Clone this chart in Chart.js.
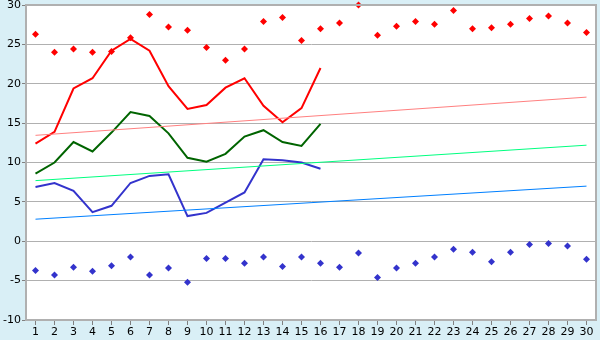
<!DOCTYPE html>
<html>
<head>
<meta charset="utf-8">
<script src="https://cdn.jsdelivr.net/npm/chart.js@4"></script>
<style>
  html, body { margin: 0; padding: 0; background: #d9eff6; }
  #wrap { width: 600px; height: 340px; }
</style>
</head>
<body>
<div id="wrap"><canvas id="tempChart" width="600" height="340"></canvas></div>
<script>
// days of the month
var days = [];
for (var d = 1; d <= 30; d++) days.push(String(d));

// daily max / mean / min (first 16 days)
var maxTemp  = [12.4, 13.9, 19.4, 20.7, 24.2, 25.7, 24.2, 19.7, 16.8, 17.3, 19.5, 20.7, 17.2, 15.1, 16.9, 22.0];
var meanTemp = [8.6, 10.0, 12.6, 11.4, 13.8, 16.4, 15.9, 13.7, 10.6, 10.1, 11.1, 13.3, 14.1, 12.6, 12.1, 14.9];
var minTemp  = [6.9, 7.4, 6.4, 3.7, 4.5, 7.4, 8.3, 8.5, 3.2, 3.6, 4.9, 6.2, 10.4, 10.3, 10.0, 9.2];

// record highs / lows for each day
var recordHigh = [26.3, 24.0, 24.4, 24.0, 24.1, 25.85, 28.8, 27.2, 26.8, 24.6, 23.0, 24.4, 27.9, 28.4, 25.5,
                  27.0, 27.7, 30.0, 26.15, 27.3, 27.9, 27.55, 29.3, 27.0, 27.1, 27.55, 28.3, 28.6, 27.7, 26.5];
var recordLow  = [-3.7, -4.3, -3.3, -3.8, -3.1, -2.0, -4.3, -3.4, -5.2, -2.2, -2.2, -2.8, -2.0, -3.2, -2.0,
                  -2.8, -3.3, -1.5, -4.6, -3.4, -2.8, -2.0, -1.0, -1.4, -2.6, -1.4, -0.4, -0.3, -0.6, -2.3];

// long term normals: value on day 1 and day 30
var normalMax  = [13.45, 18.3];
var normalMean = [7.7, 12.2];
var normalMin  = [2.8, 7.0];

var yTicks = [-10, -5, 0, 5, 10, 15, 20, 25, 30];

function endpoints(pair) {
    var arr = days.map(function() { return null; });
    arr[0] = pair[0];
    arr[arr.length - 1] = pair[1];
    return arr;
}

var plotBg = {
    id: 'plotBg',
    beforeDraw: function(chart) {
        var c = chart.ctx, a = chart.chartArea;
        c.save();
        c.fillStyle = '#d9eff6';
        c.fillRect(0, 0, chart.width, chart.height);
        c.fillStyle = '#ffffff';
        c.fillRect(a.left, a.top, a.right - a.left, a.bottom - a.top);
        c.restore();
    },
    afterDatasetsDraw: function(chart) {
        var c = chart.ctx, a = chart.chartArea;
        c.save();
        c.strokeStyle = '#b0b0b0';
        c.lineWidth = 2;
        c.beginPath();
        c.moveTo(a.left, a.top);
        c.lineTo(a.right, a.top);
        c.lineTo(a.right, a.bottom);
        c.stroke();
        c.restore();
    }
};

function lineSet(label, data, color, width) {
    return {
        label: label, data: data, borderColor: color, backgroundColor: color,
        borderWidth: width, pointRadius: 0, tension: 0, fill: false, spanGaps: true
    };
}

function pointSet(label, data, color) {
    return {
        label: label, data: data, showLine: false, borderColor: color, backgroundColor: color,
        pointStyle: 'rectRot', pointRadius: 3.5, pointBorderWidth: 0, clip: false
    };
}

var ctx = document.getElementById('tempChart').getContext('2d');
var myChart = new Chart(ctx, {
    type: 'line',
    data: {
        labels: days,
        datasets: [
            lineSet('Normal max', endpoints(normalMax), '#ff8080', 1),
            lineSet('Normal mean', endpoints(normalMean), '#00ff80', 1),
            lineSet('Normal min', endpoints(normalMin), '#0080ff', 1),
            lineSet('Max', maxTemp, '#ff0000', 2),
            lineSet('Mean', meanTemp, '#006400', 2),
            lineSet('Min', minTemp, '#3333cc', 2),
            pointSet('Record high', recordHigh, '#ff0000'),
            pointSet('Record low', recordLow, '#3333cc')
        ]
    },
    options: {
        responsive: false,
        animation: false,
        layout: { padding: { top: 5, right: 4, left: 0, bottom: 0 } },
        plugins: { legend: { display: false }, tooltip: { enabled: false } },
        scales: {
            x: {
                offset: true,
                grid: { display: true, drawOnChartArea: false, color: '#808080', tickLength: 5, offset: false },
                border: { color: '#b0b0b0', width: 2 },
                ticks: { color: '#000', font: { family: 'DejaVu Sans', size: 11 }, padding: 1, maxRotation: 0, autoSkip: false },
                afterFit: function(scale) { scale.height = 20; scale.paddingLeft = 0; scale.paddingRight = 0; }
            },
            y: {
                min: -10,
                max: 30,
                afterBuildTicks: function(scale) {
                    scale.ticks = yTicks.map(function(v) { return { value: v }; });
                },
                grid: { color: '#b0b0b0', tickLength: 4, tickColor: '#808080' },
                border: { color: '#b0b0b0', width: 2 },
                ticks: { color: '#000', font: { family: 'DejaVu Sans', size: 11 }, padding: 1 },
                afterFit: function(scale) { scale.width = 26; scale.paddingTop = 0; scale.paddingBottom = 0; }
            }
        }
    },
    plugins: [plotBg]
});
</script>
</body>
</html>
